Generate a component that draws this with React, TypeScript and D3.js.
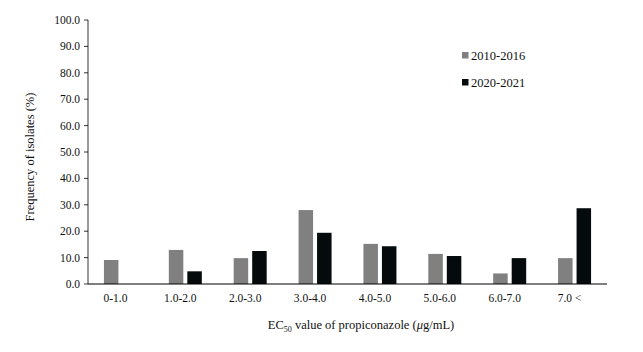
import React from "react";
import * as d3 from "d3";

const categories = ["0-1.0", "1.0-2.0", "2.0-3.0", "3.0-4.0", "4.0-5.0", "5.0-6.0", "6.0-7.0", "7.0 <"];
const seriesNames = ["2010-2016", "2020-2021"];
const values2010 = [9.1, 12.9, 9.8, 28.0, 15.2, 11.4, 4.0, 9.8];
const values2020 = [0, 4.8, 12.5, 19.4, 14.3, 10.6, 9.8, 28.7];
const yTicks = [0, 10, 20, 30, 40, 50, 60, 70, 80, 90, 100];

const colors = ["#808080", "#050a0c"];

export default function App() {
  const W = 643, H = 352;
  const left = 88, right = 607, top = 20, bottom = 284;
  const x = d3.scaleBand<string>().domain(categories).range([left, right]).padding(0);
  const y = d3.scaleLinear().domain([0, 100]).range([bottom, top]);
  const barW = 14.5, gap = 4;
  const font = "'Liberation Serif', 'Times New Roman', serif";
  const series = [values2010, values2020];

  return (
    <svg width={W} height={H} style={{ position: "absolute", left: 0, top: 0 }} fontFamily={font}>
      <rect width={W} height={H} fill="#fff" />
      {series.map((vals, si) =>
        categories.map((c, i) => {
          const cx = x(c)! + x.bandwidth() / 2;
          const bx = si === 0 ? cx - gap / 2 - barW : cx + gap / 2;
          const v = vals[i];
          if (v <= 0) return null;
          return (
            <rect key={`${si}-${i}`} x={bx} y={y(v)} width={barW} height={y(0) - y(v)} fill={colors[si]} />
          );
        })
      )}
      {/* y axis */}
      <line x1={left} x2={left} y1={top} y2={bottom} stroke="#000" strokeWidth={0.8} />
      {yTicks.map((t) => (
        <g key={t}>
          <line x1={left - 4} x2={left} y1={y(t)} y2={y(t)} stroke="#000" strokeWidth={0.8} />
          <text x={left - 8} y={y(t)} dy="0.35em" textAnchor="end" fontSize={11.5} fill="#111">
            {t.toFixed(1)}
          </text>
        </g>
      ))}
      {/* x axis */}
      <line x1={left} x2={right} y1={bottom} y2={bottom} stroke="#000" strokeWidth={1} />
      {categories.map((c) => (
        <text key={c} x={x(c)! + x.bandwidth() / 2 - 5} y={302} textAnchor="middle" fontSize={11.5} fill="#111">
          {c}
        </text>
      ))}
      <text x={361} y={329} textAnchor="middle" fontSize={12.5} fill="#111">
        EC<tspan fontSize={8} dy={3}>50</tspan>
        <tspan dy={-3}> value of propiconazole (</tspan>
        <tspan fontStyle="italic">μ</tspan>
        <tspan>g/mL)</tspan>
      </text>
      <text transform={`translate(34,157) rotate(-90)`} textAnchor="middle" fontSize={12.5} fill="#111">
        Frequency of isolates (%)
      </text>
      {seriesNames.map((n, i) => (
        <g key={n}>
          <rect x={462} y={52 + i * 27} width={6.5} height={6.5} fill={colors[i]} />
          <text x={471} y={55.5 + i * 27} dy="0.35em" fontSize={12.5} fill="#111">
            {n}
          </text>
        </g>
      ))}
    </svg>
  );
}
